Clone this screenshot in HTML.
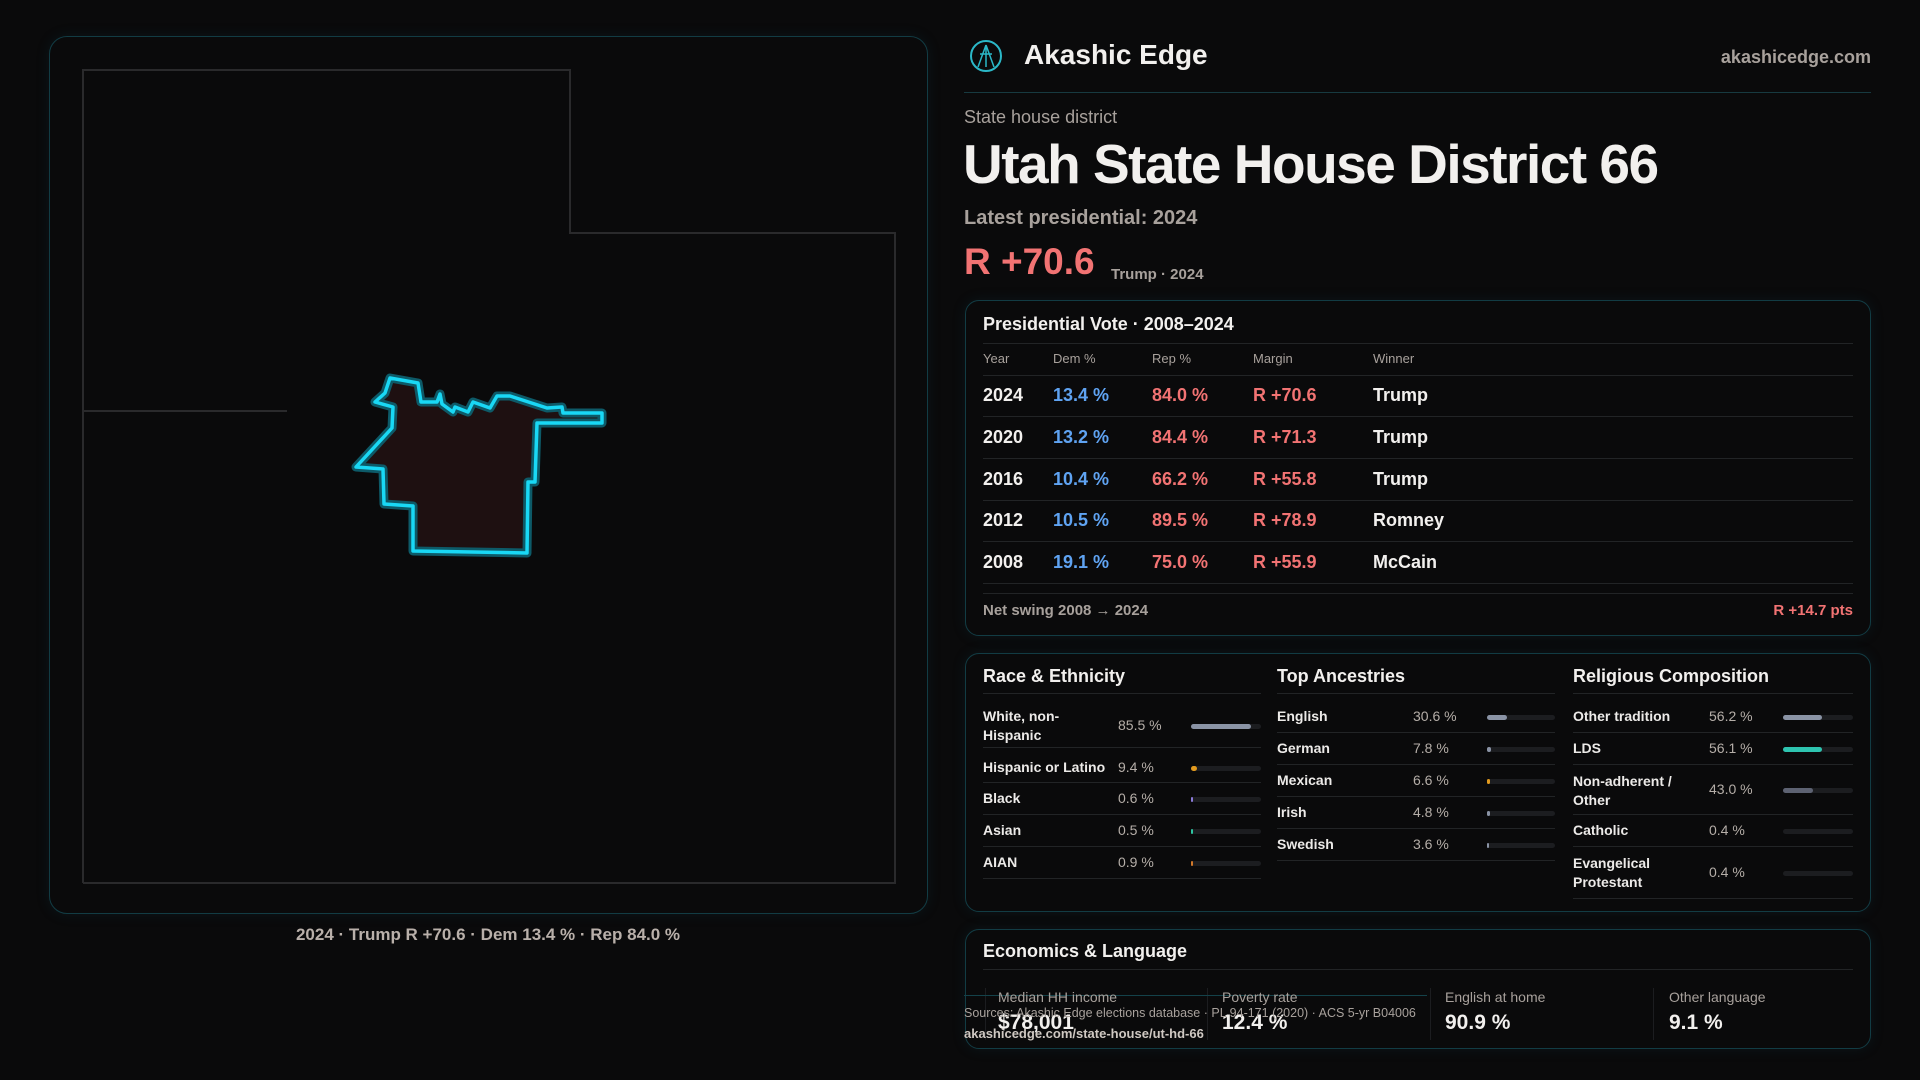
<!DOCTYPE html>
<html><head><meta charset="utf-8"><style>
*{margin:0;padding:0;box-sizing:border-box}
body{width:1920px;height:1080px;background:#0a0a0b;font-family:"Liberation Sans",sans-serif;color:#f2f0ee;position:relative;overflow:hidden}
.a{position:absolute;white-space:nowrap}
.card{position:absolute;border:1px solid #123c44;border-radius:14px;background:#0a0a0b;box-shadow:0 0 14px rgba(20,90,110,0.15)}
.hl{position:absolute;height:1px;background:#222426}
.g{color:#a8a19c}
.b{color:#5fa3f2}.r{color:#f27373}
.row{font-size:18px;font-weight:bold}
.lbl{font-size:14px;font-weight:bold;color:#eceae8}
.val{font-size:14px;color:#b5aea8}
.bar{position:absolute;height:5px;border-radius:3px;background:#1c1d20}
.bar i{position:absolute;left:0;top:0;height:5px;border-radius:3px}
</style></head><body>

<div class="card" style="left:49px;top:36px;width:879px;height:878px;border-radius:18px"></div>
<svg class="a" style="left:0;top:0" width="960" height="1080">
<polyline points="83,883 83,70 570,70 570,233 895,233 895,883 83,883" fill="none" stroke="#2a2a2c" stroke-width="2"/>
<line x1="83" y1="411" x2="287" y2="411" stroke="#2a2a2c" stroke-width="2"/>
<polygon points="390,378 418,383 421,402 437,402 440,394 442,404 453,412 455,407 468,412 473,402 490,408 497,396 510,396 547,408 562,407 563,413 602,413 602,423 537,423 535,482 528,482 527,553 413,551 413,506 384,504 383,469 356,467 392,428 393,407 375,402 385,393" fill="#1e1011" stroke="#0d5a68" stroke-width="9" stroke-linejoin="round"/>
<polygon points="390,378 418,383 421,402 437,402 440,394 442,404 453,412 455,407 468,412 473,402 490,408 497,396 510,396 547,408 562,407 563,413 602,413 602,423 537,423 535,482 528,482 527,553 413,551 413,506 384,504 383,469 356,467 392,428 393,407 375,402 385,393" fill="none" stroke="#19d8f5" stroke-width="3.5" stroke-linejoin="round"/>
</svg>
<div class="a" style="left:0;width:976px;top:925px;text-align:center;font-size:17px;font-weight:bold;color:#b9b0aa">2024 · Trump R +70.6 · Dem 13.4 % · Rep 84.0 %</div>

<!-- header -->
<svg class="a" style="left:969px;top:39px" width="34" height="34"><circle cx="17" cy="17" r="15" fill="none" stroke="#2bb8c8" stroke-width="2"/><path d="M17 6 L9 28 M17 6 L25 28 M11 15 L23 15 M17 6 L17 28" stroke="#2bb8c8" stroke-width="1.5" fill="none"/></svg>
<div class="a" style="left:1024px;top:39px;font-size:28px;font-weight:bold">Akashic Edge</div>
<div class="a g" style="right:49px;top:47px;font-size:18px;font-weight:bold">akashicedge.com</div>
<div class="a" style="left:964px;top:92px;width:907px;height:1px;background:#173a40"></div>
<div class="a g" style="left:964px;top:107px;font-size:18px">State house district</div>
<div class="a" style="left:963px;top:132px;font-size:55px;font-weight:bold;letter-spacing:-1.5px">Utah State House District 66</div>
<div class="a g" style="left:964px;top:207px;font-size:20px;font-weight:bold">Latest presidential: 2024</div>
<div class="a r" style="left:964px;top:241px;font-size:37px;font-weight:bold">R +70.6</div>
<div class="a g" style="left:1111px;top:266px;font-size:15px;font-weight:bold">Trump · 2024</div>

<!-- presidential -->
<div class="card" style="left:965px;top:300px;width:906px;height:336px"></div>
<div class="a" style="left:983px;top:314px;font-size:18px;font-weight:bold">Presidential Vote · 2008–2024</div>
<div class="hl" style="left:983px;top:343px;width:870px"></div>
<div class="a g" style="left:983px;top:351px;font-size:13px">Year</div>
<div class="a g" style="left:1053px;top:351px;font-size:13px">Dem %</div>
<div class="a g" style="left:1152px;top:351px;font-size:13px">Rep %</div>
<div class="a g" style="left:1253px;top:351px;font-size:13px">Margin</div>
<div class="a g" style="left:1373px;top:351px;font-size:13px">Winner</div>
<div class="hl" style="left:983px;top:375px;width:870px"></div>
<div class="a row" style="left:983px;top:385px">2024</div><div class="a row b" style="left:1053px;top:385px">13.4 %</div><div class="a row r" style="left:1152px;top:385px">84.0 %</div><div class="a row r" style="left:1253px;top:385px">R +70.6</div><div class="a row" style="left:1373px;top:385px">Trump</div>
<div class="hl" style="left:983px;top:416px;width:870px"></div>
<div class="a row" style="left:983px;top:427px">2020</div><div class="a row b" style="left:1053px;top:427px">13.2 %</div><div class="a row r" style="left:1152px;top:427px">84.4 %</div><div class="a row r" style="left:1253px;top:427px">R +71.3</div><div class="a row" style="left:1373px;top:427px">Trump</div>
<div class="hl" style="left:983px;top:458px;width:870px"></div>
<div class="a row" style="left:983px;top:469px">2016</div><div class="a row b" style="left:1053px;top:469px">10.4 %</div><div class="a row r" style="left:1152px;top:469px">66.2 %</div><div class="a row r" style="left:1253px;top:469px">R +55.8</div><div class="a row" style="left:1373px;top:469px">Trump</div>
<div class="hl" style="left:983px;top:500px;width:870px"></div>
<div class="a row" style="left:983px;top:510px">2012</div><div class="a row b" style="left:1053px;top:510px">10.5 %</div><div class="a row r" style="left:1152px;top:510px">89.5 %</div><div class="a row r" style="left:1253px;top:510px">R +78.9</div><div class="a row" style="left:1373px;top:510px">Romney</div>
<div class="hl" style="left:983px;top:541px;width:870px"></div>
<div class="a row" style="left:983px;top:552px">2008</div><div class="a row b" style="left:1053px;top:552px">19.1 %</div><div class="a row r" style="left:1152px;top:552px">75.0 %</div><div class="a row r" style="left:1253px;top:552px">R +55.9</div><div class="a row" style="left:1373px;top:552px">McCain</div>
<div class="hl" style="left:983px;top:583px;width:870px"></div>
<div class="hl" style="left:983px;top:593px;width:870px"></div>
<div class="a g" style="left:983px;top:602px;font-size:15px;font-weight:bold">Net swing 2008 → 2024</div>
<div class="a r" style="right:67px;top:602px;font-size:15px;font-weight:bold">R +14.7 pts</div>

<!-- demographics -->
<div class="card" style="left:965px;top:653px;width:906px;height:259px"></div>
<div class="a" style="left:983px;top:666px;font-size:18px;font-weight:bold">Race &amp; Ethnicity</div>
<div class="a" style="left:1277px;top:666px;font-size:18px;font-weight:bold">Top Ancestries</div>
<div class="a" style="left:1573px;top:666px;font-size:18px;font-weight:bold">Religious Composition</div>
<div class="hl" style="left:983px;top:693px;width:278px"></div>
<div class="hl" style="left:1277px;top:693px;width:278px"></div>
<div class="hl" style="left:1573px;top:693px;width:280px"></div>

<div class="a lbl" style="left:983px;top:707px;line-height:19px">White, non-<br>Hispanic</div><div class="a val" style="left:1118px;top:717px">85.5 %</div><div class="bar" style="left:1191px;top:724px;width:70px"><i style="width:60px;background:#8a93a5"></i></div>
<div class="hl" style="left:983px;top:747px;width:278px"></div>
<div class="a lbl" style="left:983px;top:759px">Hispanic or Latino</div><div class="a val" style="left:1118px;top:759px">9.4 %</div><div class="bar" style="left:1191px;top:766px;width:70px"><i style="width:6px;background:#e29a1e"></i></div>
<div class="hl" style="left:983px;top:782px;width:278px"></div>
<div class="a lbl" style="left:983px;top:790px">Black</div><div class="a val" style="left:1118px;top:790px">0.6 %</div><div class="bar" style="left:1191px;top:797px;width:70px"><i style="width:2px;background:#8a7ad8"></i></div>
<div class="hl" style="left:983px;top:814px;width:278px"></div>
<div class="a lbl" style="left:983px;top:822px">Asian</div><div class="a val" style="left:1118px;top:822px">0.5 %</div><div class="bar" style="left:1191px;top:829px;width:70px"><i style="width:2px;background:#2ec4a0"></i></div>
<div class="hl" style="left:983px;top:846px;width:278px"></div>
<div class="a lbl" style="left:983px;top:854px">AIAN</div><div class="a val" style="left:1118px;top:854px">0.9 %</div><div class="bar" style="left:1191px;top:861px;width:70px"><i style="width:2px;background:#d0782a"></i></div>
<div class="hl" style="left:983px;top:878px;width:278px"></div>

<div class="a lbl" style="left:1277px;top:708px">English</div><div class="a val" style="left:1413px;top:708px">30.6 %</div><div class="bar" style="left:1487px;top:715px;width:68px"><i style="width:20px;background:#8a93a5"></i></div>
<div class="hl" style="left:1277px;top:732px;width:278px"></div>
<div class="a lbl" style="left:1277px;top:740px">German</div><div class="a val" style="left:1413px;top:740px">7.8 %</div><div class="bar" style="left:1487px;top:747px;width:68px"><i style="width:4px;background:#8a93a5"></i></div>
<div class="hl" style="left:1277px;top:764px;width:278px"></div>
<div class="a lbl" style="left:1277px;top:772px">Mexican</div><div class="a val" style="left:1413px;top:772px">6.6 %</div><div class="bar" style="left:1487px;top:779px;width:68px"><i style="width:3px;background:#e29a1e"></i></div>
<div class="hl" style="left:1277px;top:796px;width:278px"></div>
<div class="a lbl" style="left:1277px;top:804px">Irish</div><div class="a val" style="left:1413px;top:804px">4.8 %</div><div class="bar" style="left:1487px;top:811px;width:68px"><i style="width:3px;background:#8a93a5"></i></div>
<div class="hl" style="left:1277px;top:828px;width:278px"></div>
<div class="a lbl" style="left:1277px;top:836px">Swedish</div><div class="a val" style="left:1413px;top:836px">3.6 %</div><div class="bar" style="left:1487px;top:843px;width:68px"><i style="width:2px;background:#8a93a5"></i></div>
<div class="hl" style="left:1277px;top:860px;width:278px"></div>

<div class="a lbl" style="left:1573px;top:708px">Other tradition</div><div class="a val" style="left:1709px;top:708px">56.2 %</div><div class="bar" style="left:1783px;top:715px;width:70px"><i style="width:39px;background:#8a93a5"></i></div>
<div class="hl" style="left:1573px;top:732px;width:280px"></div>
<div class="a lbl" style="left:1573px;top:740px">LDS</div><div class="a val" style="left:1709px;top:740px">56.1 %</div><div class="bar" style="left:1783px;top:747px;width:70px"><i style="width:39px;background:#2ec4b0"></i></div>
<div class="hl" style="left:1573px;top:764px;width:280px"></div>
<div class="a lbl" style="left:1573px;top:772px;line-height:19px">Non-adherent /<br>Other</div><div class="a val" style="left:1709px;top:781px">43.0 %</div><div class="bar" style="left:1783px;top:788px;width:70px"><i style="width:30px;background:#5d6272"></i></div>
<div class="hl" style="left:1573px;top:814px;width:280px"></div>
<div class="a lbl" style="left:1573px;top:822px">Catholic</div><div class="a val" style="left:1709px;top:822px">0.4 %</div><div class="bar" style="left:1783px;top:829px;width:70px"></div>
<div class="hl" style="left:1573px;top:846px;width:280px"></div>
<div class="a lbl" style="left:1573px;top:854px;line-height:19px">Evangelical<br>Protestant</div><div class="a val" style="left:1709px;top:864px">0.4 %</div><div class="bar" style="left:1783px;top:871px;width:70px"></div>
<div class="hl" style="left:1573px;top:898px;width:280px"></div>

<!-- economics -->
<div class="card" style="left:965px;top:929px;width:906px;height:120px"></div>
<div class="a" style="left:983px;top:941px;font-size:18px;font-weight:bold">Economics &amp; Language</div>
<div class="hl" style="left:983px;top:969px;width:870px"></div>
<div class="a" style="left:985px;top:988px;width:1px;height:52px;background:#1c1d20"></div>
<div class="a" style="left:1207px;top:988px;width:1px;height:52px;background:#1c1d20"></div>
<div class="a" style="left:1430px;top:988px;width:1px;height:52px;background:#1c1d20"></div>
<div class="a" style="left:1653px;top:988px;width:1px;height:52px;background:#1c1d20"></div>
<div class="a" style="left:964px;top:995px;width:463px;height:1px;background:#14424a"></div>
<div class="a g" style="left:998px;top:989px;font-size:14px">Median HH income</div>
<div class="a g" style="left:1222px;top:989px;font-size:14px">Poverty rate</div>
<div class="a g" style="left:1445px;top:989px;font-size:14px">English at home</div>
<div class="a g" style="left:1669px;top:989px;font-size:14px">Other language</div>
<div class="a" style="left:998px;top:1011px;font-size:21px;font-weight:bold">$78,001</div>
<div class="a" style="left:1222px;top:1011px;font-size:21px;font-weight:bold">12.4 %</div>
<div class="a" style="left:1445px;top:1011px;font-size:21px;font-weight:bold">90.9 %</div>
<div class="a" style="left:1669px;top:1011px;font-size:21px;font-weight:bold">9.1 %</div>
<div class="a g" style="left:964px;top:1006px;font-size:12.5px">Sources: Akashic Edge elections database · PL 94-171 (2020) · ACS 5-yr B04006</div>
<div class="a" style="left:964px;top:1026px;font-size:13px;font-weight:bold;color:#cfc8c2">akashicedge.com/state-house/ut-hd-66</div>
</body></html>
